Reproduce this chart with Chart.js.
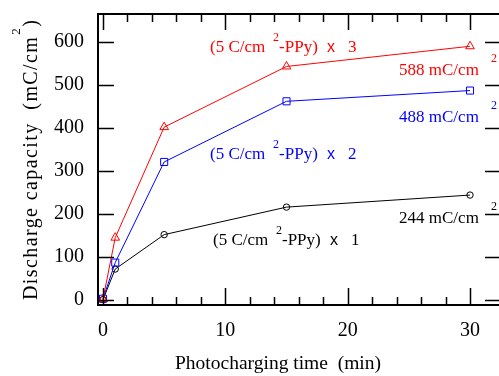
<!DOCTYPE html>
<html><head><meta charset="utf-8">
<script src="https://cdn.jsdelivr.net/npm/chart.js@4"></script>
<style>html,body{margin:0;padding:0;background:#fff}canvas{display:block}</style>
</head><body>
<canvas id="c" width="499" height="376"></canvas>
<script>
// ---- data ----
const timeMin = [0, 1, 5, 15, 30];
const chargeX3 = [2, 145, 402, 543, 590];
const chargeX2 = [3, 87, 321, 462, 487];
const chargeX1 = [1, 72, 152, 216, 244];
const xTicks = [0, 10, 20, 30];
const xMinorTicks = [2, 4, 6, 8, 12, 14, 16, 18, 22, 24, 26, 28];
const yTicks = [0, 100, 200, 300, 400, 500, 600];
const multipliers = ['3', '2', '1'];
const endValues = ['588', '488', '244'];
// label anchors in data coordinates
const nameLabelX = [8.75, 8.75, 8.99];
const nameLabelY = [577, 328, 128];
const endLabelX = [24.2, 24.2, 24.2];
const endLabelY = [523, 414, 179];

const colors = ['#ff0000', '#0000ff', '#000000'];
const shapes = ['triangle', 'rect', 'circle'];
const radii = [5, 5, 3.2];
const values = [chargeX3, chargeX2, chargeX1];

const SERIF = '"Liberation Serif", "Times New Roman", serif';

const decor = {
  id: 'decor',
  afterDraw(chart) {
    const ctx = chart.ctx, a = chart.chartArea;
    const xs = chart.scales.x, ys = chart.scales.y;
    ctx.save();
    ctx.strokeStyle = '#000';
    ctx.lineWidth = 2;
    ctx.beginPath();
    ctx.moveTo(a.left, a.top); ctx.lineTo(a.right + 2, a.top);
    ctx.moveTo(a.left, a.top - 1); ctx.lineTo(a.left, a.bottom + 1);
    ctx.moveTo(a.left - 1, a.bottom); ctx.lineTo(a.right + 2, a.bottom);
    ctx.stroke();
    ctx.lineWidth = 1.5;
    ctx.beginPath();
    xTicks.forEach(v => {
      const p = Math.round(xs.getPixelForValue(v)) + 0.5;
      ctx.moveTo(p, a.bottom); ctx.lineTo(p, a.bottom - 17);
      ctx.moveTo(p, a.top); ctx.lineTo(p, a.top + 16);
    });
    xMinorTicks.forEach(v => {
      const p = Math.round(xs.getPixelForValue(v)) + 0.5;
      ctx.moveTo(p, a.bottom); ctx.lineTo(p, a.bottom - 8);
      ctx.moveTo(p, a.top); ctx.lineTo(p, a.top + 8);
    });
    yTicks.forEach(v => {
      const p = Math.round(ys.getPixelForValue(v)) + 0.5;
      ctx.moveTo(a.left, p); ctx.lineTo(a.left + 16, p);
      ctx.moveTo(a.right + 2, p); ctx.lineTo(a.right - 14, p);
    });
    ctx.stroke();

    // annotations
    ctx.textBaseline = 'alphabetic';
    ctx.textAlign = 'left';
    for (let i = 0; i < 3; i++) {
      ctx.fillStyle = colors[i];
      let x = xs.getPixelForValue(nameLabelX[i]);
      let y = ys.getPixelForValue(nameLabelY[i]);
      ctx.font = '17px ' + SERIF;
      ctx.fillText('(5 C/cm', x, y);
      ctx.fillText('-PPy)', x + 69, y);
      ctx.fillText(multipliers[i], x + 138, y);
      ctx.font = '16px "Liberation Sans", Arial, sans-serif';
      ctx.fillText('x', x + 117, y);
      ctx.font = '12px ' + SERIF;
      ctx.fillText('2', x + 63, y - 10.5);

      x = xs.getPixelForValue(endLabelX[i]);
      y = ys.getPixelForValue(endLabelY[i]);
      ctx.font = '17px ' + SERIF;
      ctx.fillText(endValues[i] + ' mC/cm', x, y);
      ctx.font = '12px ' + SERIF;
      ctx.fillText('2', x + 92, y - 13);
    }

    // axis titles
    ctx.fillStyle = '#000';
    ctx.font = '19.5px ' + SERIF;
    ctx.textAlign = 'center';
    ctx.fillText('Photocharging time  (min)', 278, 369);

    ctx.save();
    ctx.translate(37, 300);
    ctx.rotate(-Math.PI / 2);
    ctx.textAlign = 'left';
    ctx.font = '20px ' + SERIF;
    ctx.letterSpacing = '1.4px';
    const main = 'Discharge capacity  (mC/cm';
    ctx.fillText(main, 0, 0);
    const w = ctx.measureText(main).width;
    ctx.font = '13px ' + SERIF;
    ctx.fillText('2', w + 1, -17);
    ctx.font = '20px ' + SERIF;
    ctx.fillText(')', w + 9, 0);
    ctx.restore();
    ctx.restore();
  }
};

new Chart(document.getElementById('c'), {
  type: 'scatter',
  data: {
    datasets: values.map((vals, i) => ({
      data: timeMin.map((t, k) => ({ x: t, y: vals[k] })),
      showLine: true,
      borderColor: colors[i],
      borderWidth: 1,
      pointStyle: shapes[i],
      pointRadius: radii[i],
      pointBorderColor: colors[i],
      pointBackgroundColor: 'rgba(0,0,0,0)',
      pointBorderWidth: 1,
      fill: false
    }))
  },
  options: {
    responsive: false,
    animation: false,
    devicePixelRatio: 1,
    layout: { autoPadding: false, padding: { top: 14, right: 0, left: 0, bottom: 0 } },
    plugins: { legend: { display: false }, tooltip: { enabled: false } },
    scales: {
      x: {
        type: 'linear', min: -0.41, max: 32.37,
        afterBuildTicks: s => { s.ticks = xTicks.map(v => ({ value: v })); },
        afterFit: s => { s.height = 71; s.paddingLeft = 0; s.paddingRight = 0; },
        grid: { display: false, drawTicks: false },
        border: { display: false },
        ticks: { color: '#000', font: { family: SERIF, size: 20 }, padding: 14, maxRotation: 0 }
      },
      y: {
        type: 'linear', min: -11.6, max: 665,
        afterBuildTicks: s => { s.ticks = yTicks.map(v => ({ value: v })); },
        afterFit: s => { s.width = 98; s.paddingTop = 0; s.paddingBottom = 0; },
        grid: { display: false, drawTicks: false },
        border: { display: false },
        ticks: { color: '#000', font: { family: SERIF, size: 20 }, padding: 14 }
      }
    }
  },
  plugins: [decor]
});
</script>
</body></html>
